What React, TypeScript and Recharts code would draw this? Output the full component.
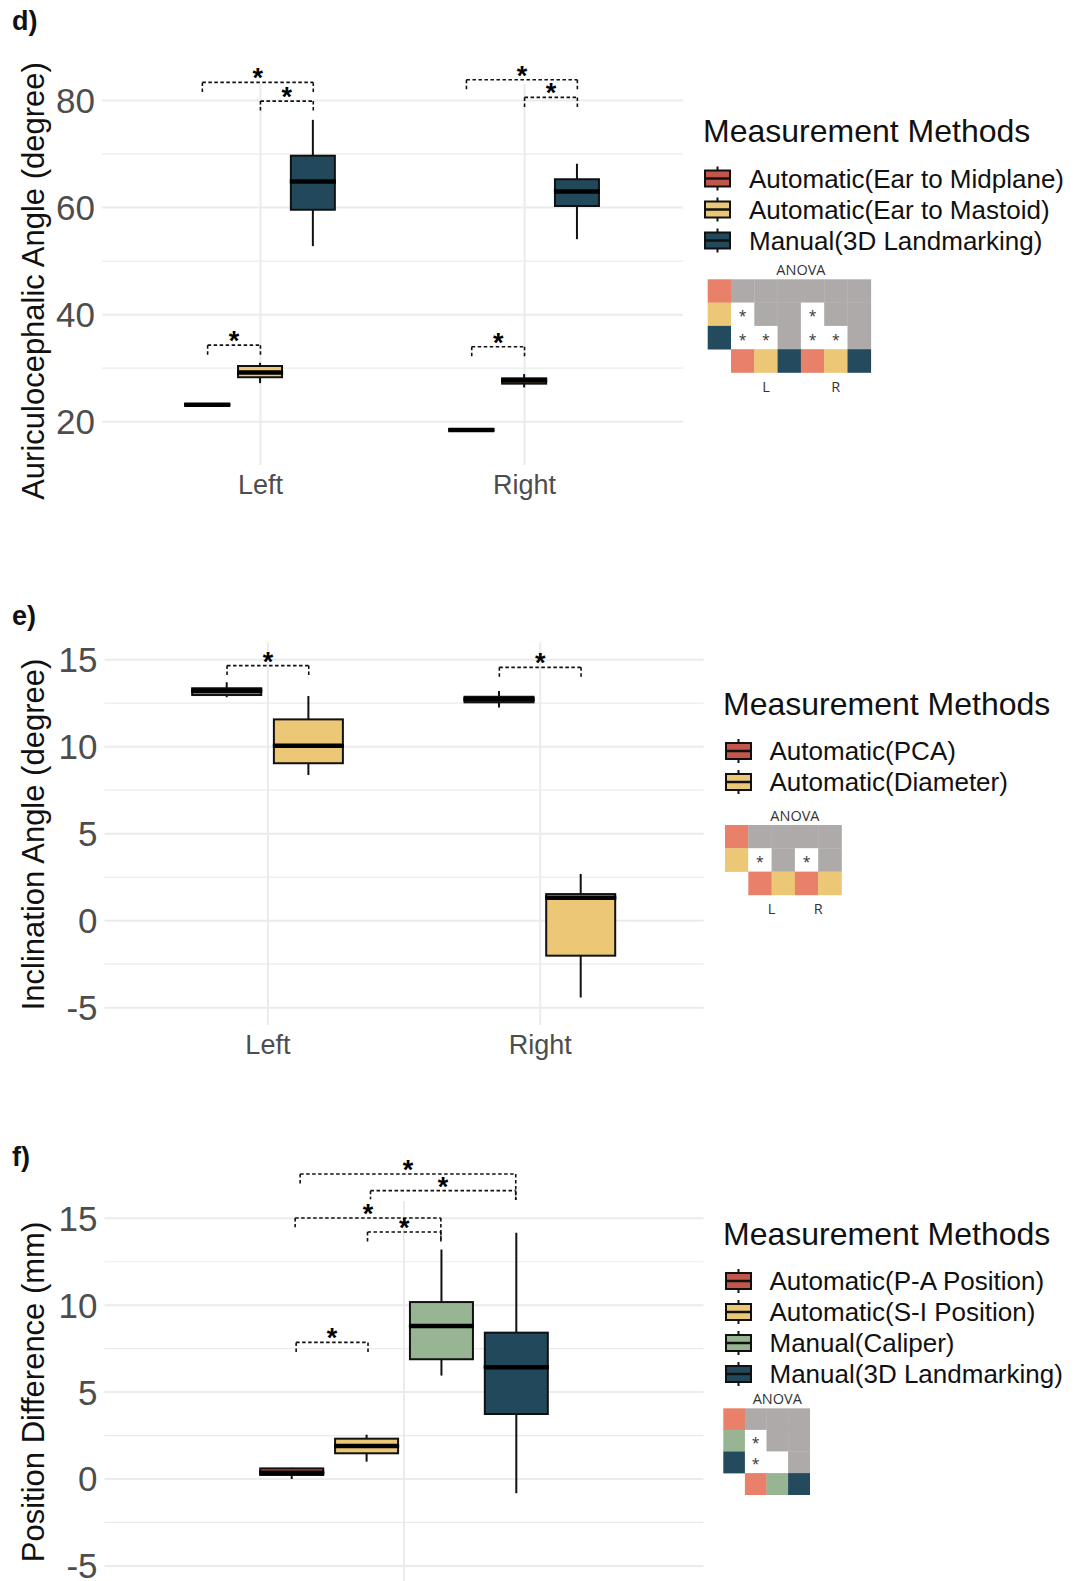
import React from "react";
import { ComposedChart, Bar, XAxis, YAxis, CartesianGrid, ReferenceLine, ReferenceDot } from "recharts";

const FONT = '"Liberation Sans", Arial, Helvetica, sans-serif';

// ---- panel d: auriculocephalic angle, box stats = [min, q1, median, q3, max] per side
const sidesD = ["Left", "Right"];
const methodsD = ["Automatic(Ear to Midplane)", "Automatic(Ear to Mastoid)", "Manual(3D Landmarking)"];
const earMidplane = [[23.0, 23.05, 23.15, 23.3, 23.4], [18.3, 18.35, 18.45, 18.6, 18.7]];
const earMastoid = [[27.2, 28.3, 29.2, 30.4, 31.0], [26.4, 27.1, 27.7, 28.1, 28.9]];
const landmarkD = [[52.8, 59.6, 64.9, 69.7, 76.4], [54.1, 60.3, 63.0, 65.3, 68.2]];
const ticksD = [20, 40, 60, 80];
const minorD = [30, 50, 70];
// significance brackets: [xStart, xEnd, y, leftTipY, rightTipY]
const bracketsD = [
  [0.78, 1.2, 83.4, 81.5, 81.4],
  [1.0, 1.2, 79.9, 78.1, 78.1],
  [0.8, 1.0, 34.3, 32.5, 32.5],
  [1.78, 2.2, 83.9, 82.1, 82.1],
  [2.0, 2.2, 80.6, 78.8, 78.8],
  [1.8, 2.0, 34.0, 32.1, 32.1],
];
// ANOVA post-hoc: rows = methods, cols = methods for L then R (1 = significant)
const anovaD = [
  [0, 0, 0, 0, 0, 0],
  [1, 0, 0, 1, 0, 0],
  [1, 1, 0, 1, 1, 0],
];

// ---- panel e: inclination angle
const sidesE = ["Left", "Right"];
const methodsE = ["Automatic(PCA)", "Automatic(Diameter)"];
const inclinationPCA = [[12.84, 12.97, 13.22, 13.36, 13.7], [12.26, 12.55, 12.72, 12.87, 13.2]];
const inclinationDiameter = [[8.37, 9.05, 10.06, 11.57, 12.91], [-4.42, -2.01, 1.32, 1.53, 2.68]];
const ticksE = [-5, 0, 5, 10, 15];
const minorE = [-2.5, 2.5, 7.5, 12.5];
const bracketsE = [
  [0.85, 1.15, 14.66, 14.02, 14.02],
  [1.85, 2.15, 14.56, 13.93, 13.93],
];
const anovaE = [
  [0, 0, 0, 0],
  [1, 0, 1, 0],
];

// ---- panel f: position difference
const methodsF = ["Automatic(P-A Position)", "Automatic(S-I Position)", "Manual(Caliper)", "Manual(3D Landmarking)"];
const positionPA = [[0.0, 0.23, 0.36, 0.61, 0.65]];
const positionSI = [[1.0, 1.48, 1.9, 2.32, 2.55]];
const positionCaliper = [[5.95, 6.89, 8.8, 10.18, 13.21]];
const positionLandmark = [[-0.82, 3.74, 6.43, 8.42, 14.17]];
const ticksF = [-5, 0, 5, 10, 15];
const minorF = [-2.5, 2.5, 7.5, 12.5];
const bracketsF = [
  [0.792, 1.224, 17.55, 16.9, 16.05],
  [0.933, 1.224, 16.59, 16.1, 16.05],
  [0.782, 1.074, 15.02, 14.48, 13.65],
  [0.927, 1.074, 14.21, 13.65, 13.65],
  [0.784, 0.928, 7.86, 7.19, 7.19],
];
const anovaF = [
  [0, 0, 0],
  [1, 0, 0],
  [1, 0, 0],
];

const fillD = ["#c2564a", "#ecc776", "#22495b"];
const fillE = ["#c2564a", "#ecc776"];
const fillF = ["#c2564a", "#ecc776", "#97b592", "#22495b"];
const SALMON = "#e8806a";
const YELLOW = "#ecc776";
const GREEN = "#97b592";
const NAVY = "#234b5d";
const GRID = "#ebebeb";

function buildRows(stats: number[][][], dodge: number) {
  const n = stats.length;
  const rows: any[] = [];
  stats.forEach((perSide, mi) => {
    perSide.forEach(([mn, q1, md, q3, mx], si) => {
      rows.push({
        x: si + 1 + (mi - (n - 1) / 2) * dodge,
        mi,
        base: mn,
        wLow: q1 - mn,
        bLow: md - q1,
        bHigh: q3 - md,
        wHigh: mx - q3,
      });
    });
  });
  return rows;
}

const rowsD = buildRows([earMidplane, earMastoid, landmarkD], 0.2);
const rowsE = buildRows([inclinationPCA, inclinationDiameter], 0.3);
const rowsF = buildRows([positionPA, positionSI, positionCaliper, positionLandmark], 0.15);

const Empty = () => <g />;

const Whisker = (p: any) => {
  if (p.x == null || p.height == null) return <g />;
  const top = Math.min(p.y, p.y + p.height);
  const cx = p.x + p.width / 2;
  return <line x1={cx} x2={cx} y1={top} y2={top + Math.abs(p.height)} stroke="#111" strokeWidth={2} />;
};

const boxShape = (colors: string[], median: boolean) => (p: any) => {
  if (p.x == null || p.height == null) return <g />;
  const top = Math.min(p.y, p.y + p.height);
  const h = Math.abs(p.height);
  return (
    <g>
      <rect x={p.x} y={top} width={p.width} height={h} fill={colors[p.payload.mi]} stroke="#111" strokeWidth={2} />
      {median && <line x1={p.x - 1} x2={p.x + p.width + 1} y1={top + h} y2={top + h} stroke="#000" strokeWidth={4.5} />}
    </g>
  );
};

// horizontal grid: even tick index = major line (labelled), odd = minor line
const gridLine = (p: any) => (
  <line
    key={p.key}
    x1={p.x1}
    x2={p.x2}
    y1={p.y1}
    y2={p.y2}
    stroke={GRID}
    strokeWidth={p.index % 2 === 0 ? 2 : 1.2}
  />
);

function brackets(list: number[][], key: string) {
  const dash = { stroke: "#111", strokeWidth: 1.6, strokeDasharray: "3.5 2.5", ifOverflow: "visible" as const };
  return list.flatMap(([x1, x2, y, t1, t2], i) => [
    <ReferenceLine key={`${key}h${i}`} segment={[{ x: x1, y }, { x: x2, y }]} {...dash} />,
    <ReferenceLine key={`${key}l${i}`} segment={[{ x: x1, y }, { x: x1, y: t1 }]} {...dash} />,
    <ReferenceLine key={`${key}r${i}`} segment={[{ x: x2, y }, { x: x2, y: t2 }]} {...dash} />,
    <ReferenceDot
      key={`${key}s${i}`}
      x={(x1 + x2) / 2}
      y={y}
      r={0}
      ifOverflow="visible"
      shape={(p: any) => (
        <text x={p.cx} y={p.cy + 5} textAnchor="middle" fontSize={27} fontWeight="bold" fill="#000">*</text>
      )}
    />,
  ]);
}

function BoxPanel({ top, height, data, colors, xDomain, xTicks, xLabels, yDomain, yTicks, minor, marks, barSize, yWidth, margin }: any) {
  const allTicks = [...yTicks, ...minor].sort((a: number, b: number) => a - b);
  return (
    <div style={{ position: "absolute", left: 0, top }}>
      <ComposedChart width={720} height={height} data={data} margin={margin}>
        <CartesianGrid stroke={GRID} strokeWidth={2} syncWithTicks horizontal={gridLine} />
        <XAxis
          type="number"
          dataKey="x"
          domain={xDomain}
          ticks={xTicks}
          allowDataOverflow
          tickFormatter={(v: number) => xLabels[v - 1] ?? ""}
          axisLine={false}
          tickLine={false}
          tickSize={0}
          tickMargin={10}
          height={40}
          tick={{ fontSize: 27, fill: "#4d4d4d" }}
        />
        <YAxis
          type="number"
          domain={yDomain}
          ticks={allTicks}
          interval={0}
          allowDataOverflow
          tickFormatter={(v: number) => (yTicks.includes(v) ? String(v) : "")}
          axisLine={false}
          tickLine={false}
          tickSize={0}
          tickMargin={7}
          width={yWidth}
          tick={{ fontSize: 35, fill: "#4d4d4d" }}
        />
        <Bar dataKey="base" stackId="box" barSize={barSize} shape={Empty} isAnimationActive={false} />
        <Bar dataKey="wLow" stackId="box" barSize={barSize} shape={Whisker} isAnimationActive={false} />
        <Bar dataKey="bLow" stackId="box" barSize={barSize} shape={boxShape(colors, false)} isAnimationActive={false} />
        <Bar dataKey="bHigh" stackId="box" barSize={barSize} shape={boxShape(colors, true)} isAnimationActive={false} />
        <Bar dataKey="wHigh" stackId="box" barSize={barSize} shape={Whisker} isAnimationActive={false} />
        {marks}
      </ComposedChart>
    </div>
  );
}

function LegendBlock({ x, y, keyX, textX, items, colors }: any) {
  return (
    <g>
      <text x={x} y={y} fontSize={32} dominantBaseline="central" fill="#111">Measurement Methods</text>
      {items.map((label: string, i: number) => {
        const cy = y + 47.5 + i * 31;
        return (
          <g key={label}>
            <line x1={keyX + 12.5} x2={keyX + 12.5} y1={cy - 12} y2={cy + 12} stroke="#111" strokeWidth={2} />
            <rect x={keyX} y={cy - 8} width={25} height={16} fill={colors[i]} stroke="#111" strokeWidth={2} />
            <line x1={keyX} x2={keyX + 25} y1={cy} y2={cy} stroke="#111" strokeWidth={2.5} />
            <text x={textX} y={cy} fontSize={26} dominantBaseline="central" fill="#111">{label}</text>
          </g>
        );
      })}
    </g>
  );
}

function AnovaInset({ x, y, cell, rowColors, colColors, sig, groups }: any) {
  const nRows = rowColors.length;
  const n = nRows;
  const nCols = colColors.length;
  const dataX = x + cell;
  const cells: any[] = [];
  for (let r = 0; r < nRows; r++) {
    for (let c = 0; c < nCols; c++) {
      const white = c % n < r;
      cells.push(
        <rect key={`c${r}-${c}`} x={dataX + c * cell} y={y + r * cell} width={cell + 0.3} height={cell + 0.3} fill={white ? "#ffffff" : "#aeaaaa"} />
      );
      if (sig[r][c]) {
        cells.push(
          <text key={`s${r}-${c}`} x={dataX + (c + 0.5) * cell} y={y + (r + 0.5) * cell + 7} fontSize={14} textAnchor="middle" fill="#333">*</text>
        );
      }
    }
  }
  return (
    <g fontFamily='"Open Sans", "Noto Sans", sans-serif'>
      <text x={dataX + (nCols * cell) / 2} y={y - 9.5} fontSize={14.5} textAnchor="middle" dominantBaseline="central" fill="#333">ANOVA</text>
      {rowColors.map((col: string, r: number) => (
        <rect key={`r${r}`} x={x} y={y + r * cell} width={cell + 0.3} height={cell + 0.3} fill={col} />
      ))}
      {cells}
      {colColors.map((col: string, c: number) => (
        <rect key={`b${c}`} x={dataX + c * cell} y={y + nRows * cell} width={cell + 0.3} height={cell + 0.3} fill={col} />
      ))}
      {groups.map((g: string, gi: number) => (
        <text key={g} x={dataX + (gi * n + n / 2) * cell} y={y + (nRows + 1) * cell + 13.5} fontSize={14.5} textAnchor="middle" dominantBaseline="central" fill="#333">{g}</text>
      ))}
    </g>
  );
}

export default function App() {
  return (
    <div style={{ position: "absolute", left: 0, top: 0, width: 1079, height: 1581, overflow: "hidden", background: "#fff", fontFamily: FONT }}>
      <BoxPanel
        top={0}
        height={520}
        data={rowsD}
        colors={fillD}
        xDomain={[0.4, 2.6]}
        xTicks={[1, 2]}
        xLabels={sidesD}
        yDomain={[11.9, 83.1]}
        yTicks={ticksD}
        minor={minorD}
        marks={brackets(bracketsD, "d")}
        barSize={44}
        yWidth={102}
        margin={{ top: 84, right: 37, bottom: 15, left: 0 }}
      />
      <BoxPanel
        top={560}
        height={520}
        data={rowsE}
        colors={fillE}
        xDomain={[0.4, 2.6]}
        xTicks={[1, 2]}
        xLabels={sidesE}
        yDomain={[-6, 16]}
        yTicks={ticksE}
        minor={minorE}
        marks={brackets(bracketsE, "e")}
        barSize={69}
        yWidth={104.5}
        margin={{ top: 82.3, right: 16.4, bottom: 14.9, left: 0 }}
      />
      <BoxPanel
        top={1100}
        height={540}
        data={rowsF}
        colors={fillF}
        xDomain={[0.4, 1.6]}
        xTicks={[1]}
        xLabels={[""]}
        yDomain={[-6, 16]}
        yTicks={ticksF}
        minor={minorF}
        marks={brackets(bracketsF, "f")}
        barSize={63}
        yWidth={104.5}
        margin={{ top: 100.9, right: 16.6, bottom: 16.7, left: 0 }}
      />
      <svg width={1079} height={1581} style={{ position: "absolute", left: 0, top: 0, pointerEvents: "none" }} fontFamily={FONT}>
        <text x={12} y={30} fontSize={27} fontWeight="bold" fill="#111">d)</text>
        <text x={12} y={625} fontSize={27} fontWeight="bold" fill="#111">e)</text>
        <text x={12} y={1166} fontSize={27} fontWeight="bold" fill="#111">f)</text>

        <text transform="translate(33,281) rotate(-90)" fontSize={31} textAnchor="middle" dominantBaseline="central" fill="#111">Auriculocephalic Angle (degree)</text>
        <text transform="translate(33,834.5) rotate(-90)" fontSize={31} textAnchor="middle" dominantBaseline="central" fill="#111">Inclination Angle (degree)</text>
        <text transform="translate(33,1392) rotate(-90)" fontSize={31} textAnchor="middle" dominantBaseline="central" fill="#111">Position Difference (mm)</text>

        <LegendBlock x={703} y={131} keyX={705} textX={749} items={methodsD} colors={fillD} />
        <LegendBlock x={723} y={703.5} keyX={726} textX={769.5} items={methodsE} colors={fillE} />
        <LegendBlock x={723} y={1233.5} keyX={726} textX={769.5} items={methodsF} colors={fillF} />

        <AnovaInset x={707.7} y={279.3} cell={23.3} rowColors={[SALMON, YELLOW, NAVY]} colColors={[SALMON, YELLOW, NAVY, SALMON, YELLOW, NAVY]} sig={anovaD} groups={["L", "R"]} />
        <AnovaInset x={725} y={825} cell={23.3} rowColors={[SALMON, YELLOW]} colColors={[SALMON, YELLOW, SALMON, YELLOW]} sig={anovaE} groups={["L", "R"]} />
        <AnovaInset x={723.3} y={1408.3} cell={21.6} rowColors={[SALMON, GREEN, NAVY]} colColors={[SALMON, GREEN, NAVY]} sig={anovaF} groups={[]} />
      </svg>
    </div>
  );
}
